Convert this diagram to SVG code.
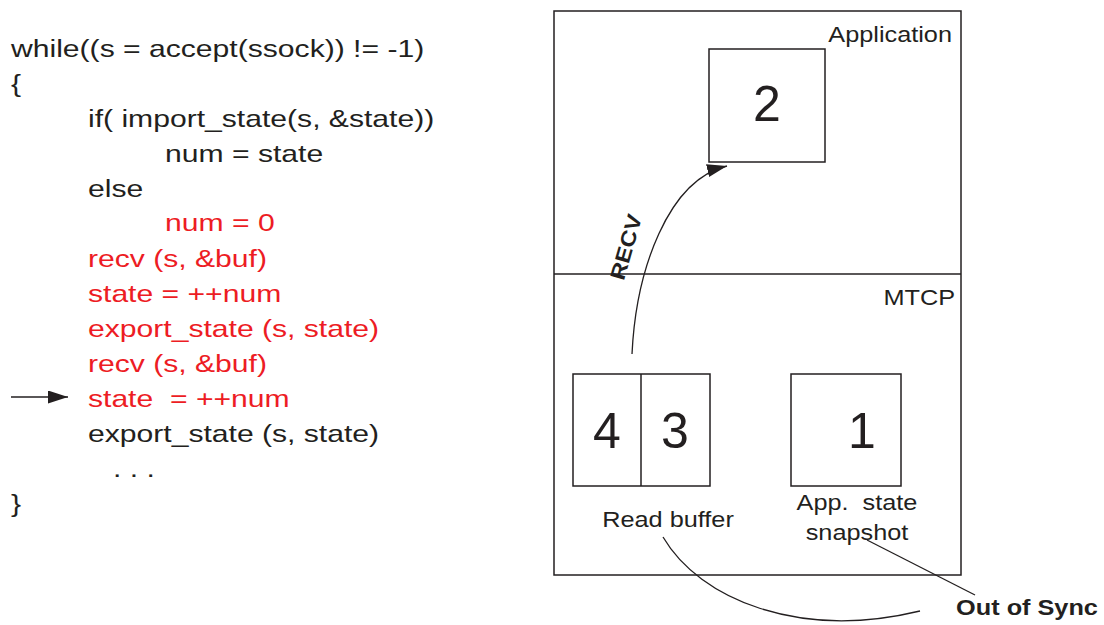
<svg xmlns="http://www.w3.org/2000/svg" width="1104" height="625" viewBox="0 0 1104 625">
  <style>
    .code { font-family: "Liberation Sans", Arial, sans-serif; font-size: 24px; fill: #231f20; }
    .hot { fill: #ed1c24; }
    .lbl { font-family: "Liberation Sans", Arial, sans-serif; font-size: 22px; fill: #231f20; }
    .num { font-family: "Liberation Sans", Arial, sans-serif; font-size: 50px; fill: #231f20; text-anchor: middle; }
    .box { fill: none; stroke: #231f20; stroke-width: 1.5; }
    .wire { fill: none; stroke: #231f20; stroke-width: 1.3; }
  </style>
  <defs>
    <marker id="head" viewBox="0 0 10 10" refX="10" refY="5" markerWidth="20" markerHeight="13" markerUnits="userSpaceOnUse" orient="auto" preserveAspectRatio="none">
      <path d="M0,0 L10,5 L0,10 z" fill="#231f20"/>
    </marker>
  </defs>
  <rect width="1104" height="625" fill="#ffffff"/>

  <!-- server loop source, set in a wide face -->
  <g id="code" transform="scale(1.255,1)">
    <text class="code" x="8.76" y="57">while((s = accept(ssock)) != -1)</text>
    <text class="code" x="8.76" y="92">{</text>
    <text class="code" x="70.1" y="127">if( import_state(s, &amp;state))</text>
    <text class="code" x="131.5" y="162">num = state</text>
    <text class="code" x="70.1" y="197">else</text>
    <text class="code hot" x="131.5" y="231">num = 0</text>
    <text class="code hot" x="70.1" y="267">recv (s, &amp;buf)</text>
    <text class="code hot" x="70.1" y="302">state = ++num</text>
    <text class="code hot" x="70.1" y="337">export_state (s, state)</text>
    <text class="code hot" x="70.1" y="372">recv (s, &amp;buf)</text>
    <text class="code hot" x="70.1" y="407" xml:space="preserve">state  = ++num</text>
    <text class="code" x="70.1" y="442">export_state (s, state)</text>
    <text class="code" x="90" y="477">. . .</text>
    <text class="code" x="8.76" y="512">}</text>
  </g>

  <!-- process layers -->
  <g id="layers">
    <rect class="box" x="554" y="11" width="407" height="564"/>
    <line class="box" x1="554" y1="274" x2="961" y2="274"/>
    <text class="lbl" text-anchor="end" transform="translate(952,42) scale(1.15,1)">Application</text>
    <text class="lbl" text-anchor="end" transform="translate(955,305) scale(1.15,1)">MTCP</text>
  </g>

  <g id="node-app-state">
    <rect class="box" x="709" y="49" width="116" height="113"/>
    <text class="num" x="767" y="121">2</text>
  </g>

  <g id="node-read-buffer">
    <rect class="box" x="573" y="374" width="137" height="112"/>
    <line class="box" x1="641" y1="374" x2="641" y2="486"/>
    <text class="num" x="607" y="448">4</text>
    <text class="num" x="675" y="448">3</text>
    <text class="lbl" text-anchor="middle" transform="translate(668,527) scale(1.15,1)">Read buffer</text>
  </g>

  <g id="node-snapshot">
    <rect class="box" x="791" y="374" width="110" height="112"/>
    <text class="num" x="862" y="448">1</text>
    <text class="lbl" text-anchor="middle" xml:space="preserve" transform="translate(857,510) scale(1.15,1)">App.  state</text>
    <text class="lbl" text-anchor="middle" transform="translate(857,540) scale(1.15,1)">snapshot</text>
  </g>

  <g id="node-out-of-sync">
    <text class="lbl" text-anchor="middle" font-weight="bold" transform="translate(1027,615) scale(1.15,1)">Out of Sync</text>
  </g>

  <!-- connectors -->
  <g id="connectors">
    <line class="wire" x1="11" y1="397" x2="68" y2="397" marker-end="url(#head)"/>
    <path class="wire" d="M632,354 C636,270 668,180 727,166" marker-end="url(#head)"/>
    <text x="0" y="0" transform="translate(633,249) rotate(-74) scale(1.15,1)" text-anchor="middle" font-family="Liberation Sans, Arial, sans-serif" font-size="21" font-weight="bold" fill="#231f20">RECV</text>
    <path class="wire" d="M663,537 C700,600 800,640 920,611"/>
    <path class="wire" d="M867,540 L975,595"/>
  </g>
</svg>
